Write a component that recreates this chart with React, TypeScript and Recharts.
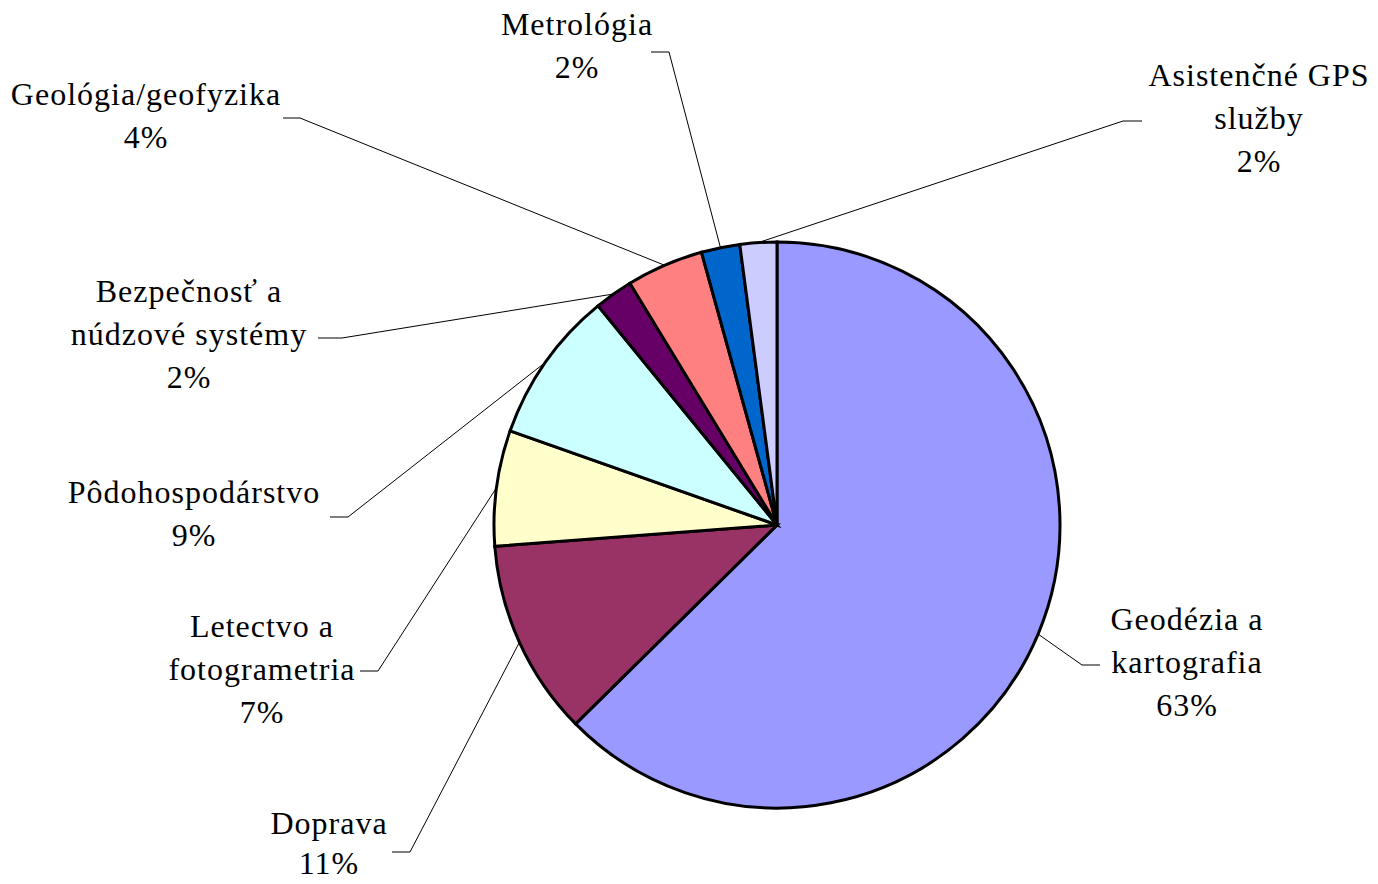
import React from 'react';
import { PieChart, Pie, Cell } from 'recharts';

const categories = [
  'Geodézia a kartografia',
  'Doprava',
  'Letectvo a fotogrametria',
  'Pôdohospodárstvo',
  'Bezpečnosť a núdzové systémy',
  'Geológia/geofyzika',
  'Metrológia',
  'Asistenčné GPS služby',
];

const shares = [62.6, 11.2, 6.6, 8.7, 2.2, 4.4, 2.2, 2.1];

const colors = ['#9999FF', '#993366', '#FFFFCC', '#CCFFFF', '#660066', '#FF8080', '#0066CC', '#CCCCFF'];

// label text split into lines, as in the reference
const labelLines = [
  ['Geodézia a', 'kartografia'],
  ['Doprava'],
  ['Letectvo a', 'fotogrametria'],
  ['Pôdohospodárstvo'],
  ['Bezpečnosť a', 'núdzové systémy'],
  ['Geológia/geofyzika'],
  ['Metrológia'],
  ['Asistenčné GPS', 'služby'],
];

// label layout: text center x, first baseline y, leader elbow and tail
const labelLayout = [
  { tx: 1187, ty: 630, ex: 1082, ey: 665, tailX: 1100 },
  { tx: 329, ty: 834, ex: 410, ey: 852, tailX: 392 },
  { tx: 262, ty: 637, ex: 378, ey: 671, tailX: 360 },
  { tx: 194, ty: 503, ex: 348, ey: 517, tailX: 330 },
  { tx: 189, ty: 302, ex: 342, ey: 338, tailX: 318 },
  { tx: 146, ty: 105, ex: 300, ey: 118, tailX: 283 },
  { tx: 577, ty: 35, ex: 669, ey: 52, tailX: 651 },
  { tx: 1259, ty: 86, ex: 1123, ey: 121, tailX: 1142 },
];

const data = categories.map((name, i) => ({ name, value: shares[i] }));

const RAD = Math.PI / 180;

const renderLabel = (props: any) => {
  const { cx, cy, midAngle, outerRadius, index, percent } = props;
  const sx = cx + outerRadius * Math.cos(-midAngle * RAD);
  const sy = cy + outerRadius * Math.sin(-midAngle * RAD);
  const L = labelLayout[index];
  const lines = [...labelLines[index], `${Math.round(percent * 100)}%`];
  const lineH = index === 1 ? 40 : 43;
  return (
    <g key={`lbl-${index}`}>
      <polyline
        points={`${sx},${sy} ${L.ex},${L.ey} ${L.tailX},${L.ey}`}
        fill="none"
        stroke="#000"
        strokeWidth={1}
      />
      <text
        x={L.tx}
        y={L.ty}
        textAnchor="middle"
        fill="#000"
        fontFamily="Liberation Serif"
        fontSize={32}
        letterSpacing={1}
      >
        {lines.map((t, k) => (
          <tspan key={k} x={L.tx} y={L.ty + k * lineH}>
            {t}
          </tspan>
        ))}
      </text>
    </g>
  );
};

export default function App() {
  return (
    <div style={{ position: 'fixed', left: 0, top: 0, width: 1378, height: 884, background: '#fff' }}>
      <PieChart width={1378} height={884} margin={{ top: 0, right: 0, bottom: 0, left: 0 }}>
        <Pie
          data={data}
          dataKey="value"
          nameKey="name"
          cx={777}
          cy={525}
          outerRadius={283}
          startAngle={90}
          endAngle={-270}
          stroke="#000"
          strokeWidth={3}
          label={renderLabel}
          labelLine={false}
          isAnimationActive={false}
        >
          {data.map((d, i) => (
            <Cell key={d.name} fill={colors[i]} />
          ))}
        </Pie>
      </PieChart>
    </div>
  );
}
